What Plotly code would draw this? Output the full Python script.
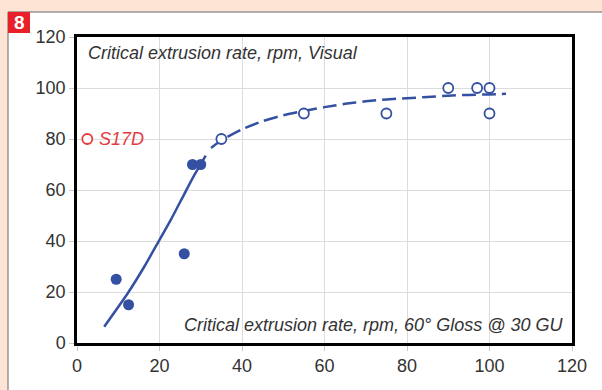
import plotly.graph_objects as go

# Data
filled_x = [9.5, 12.5, 26, 28, 30]
filled_y = [25, 15, 35, 70, 70]
open_x = [35, 55, 75, 90, 97, 100, 100]
open_y = [80, 90, 90, 100, 100, 100, 90]
s17d_x = [2.5]
s17d_y = [80]
fit_solid_x = [6.6, 12.3, 16.3, 19.6, 22.8, 26.1, 28.5, 31.2]
fit_solid_y = [6.4, 19.5, 29.9, 39.3, 48.5, 58.7, 66.0, 73.5]
fit_dash_x = [32.5, 35, 40, 45, 50, 55, 60, 65, 70, 75, 80, 85, 90, 95, 100, 104]
fit_dash_y = [76.5, 79.5, 83.8, 87, 89.3, 91, 92.5, 93.8, 94.8, 95.5, 96, 96.5, 97, 97.3, 97.5, 97.7]
tick_vals = [0, 20, 40, 60, 80, 100, 120]

BLUE = "#3450a2"
FONT = "Liberation Sans, Arial"
fig = go.Figure()
fig.add_trace(go.Scatter(x=fit_solid_x, y=fit_solid_y, mode="lines",
                         line=dict(color=BLUE, width=2.5, shape="spline", smoothing=0.6), showlegend=False))
fig.add_trace(go.Scatter(x=fit_dash_x, y=fit_dash_y, mode="lines",
                         line=dict(color=BLUE, width=2.5, dash="14px,6px", shape="spline", smoothing=0.6),
                         showlegend=False))
fig.add_trace(go.Scatter(x=filled_x, y=filled_y, mode="markers",
                         marker=dict(color=BLUE, size=11, line=dict(width=0)), showlegend=False))
fig.add_trace(go.Scatter(x=open_x, y=open_y, mode="markers",
                         marker=dict(color="white", size=10, line=dict(color=BLUE, width=1.8)), showlegend=False))
fig.add_trace(go.Scatter(x=s17d_x, y=s17d_y, mode="markers",
                         marker=dict(color="white", size=10, line=dict(color="#e53a3f", width=1.8)), showlegend=False))

axis_common = dict(range=[0, 120], tickvals=tick_vals, showgrid=True, gridcolor="#dcdcdc", gridwidth=1,
                   showline=True, linecolor="black", linewidth=2.5, mirror=True,
                   ticks="outside", ticklen=5, tickcolor="#c8c8c8", zeroline=False,
                   tickfont=dict(family=FONT, size=18, color="#333333"))
fig.update_xaxes(**axis_common)
fig.update_yaxes(**axis_common)

PW, PH = 495, 306
def px(x):
    return (x - 77) / PW
def py(y):
    return (390 - 47 - y) / PH

fig.update_layout(
    width=602, height=390,
    margin=dict(l=77, r=30, t=37, b=47),
    paper_bgcolor="#fde4d4", plot_bgcolor="white",
    shapes=[
        dict(type="rect", xref="paper", yref="paper", x0=px(8), x1=px(610), y0=py(400), y1=py(12),
             fillcolor="white", line=dict(color="#666666", width=1), layer="below"),
        dict(type="rect", xref="paper", yref="paper", x0=px(8), x1=px(30), y0=py(33), y1=py(12),
             fillcolor="#e8202a", line=dict(width=0), layer="below"),
    ],
    annotations=[
        dict(x=px(19), y=py(22.5), xref="paper", yref="paper", text="<b>8</b>",
             xanchor="center", yanchor="middle",
             showarrow=False, font=dict(family=FONT, size=19, color="white")),
        dict(x=2.3, y=118.5, xref="x", yref="y", text="<i>Critical extrusion rate, rpm, Visual</i>",
             showarrow=False, xanchor="left", yanchor="top",
             font=dict(family=FONT, size=18, color="#333333")),
        dict(x=118.5, y=2.5, xref="x", yref="y", text="<i>Critical extrusion rate, rpm, 60° Gloss @ 30 GU</i>",
             showarrow=False, xanchor="right", yanchor="bottom",
             font=dict(family=FONT, size=18, color="#333333")),
        dict(x=4.8, y=80, xref="x", yref="y", text="<i>S17D</i>",
             showarrow=False, xanchor="left", yanchor="middle",
             font=dict(family=FONT, size=18, color="#e53a3f")),
    ],
)
fig.write_html("out.html")
